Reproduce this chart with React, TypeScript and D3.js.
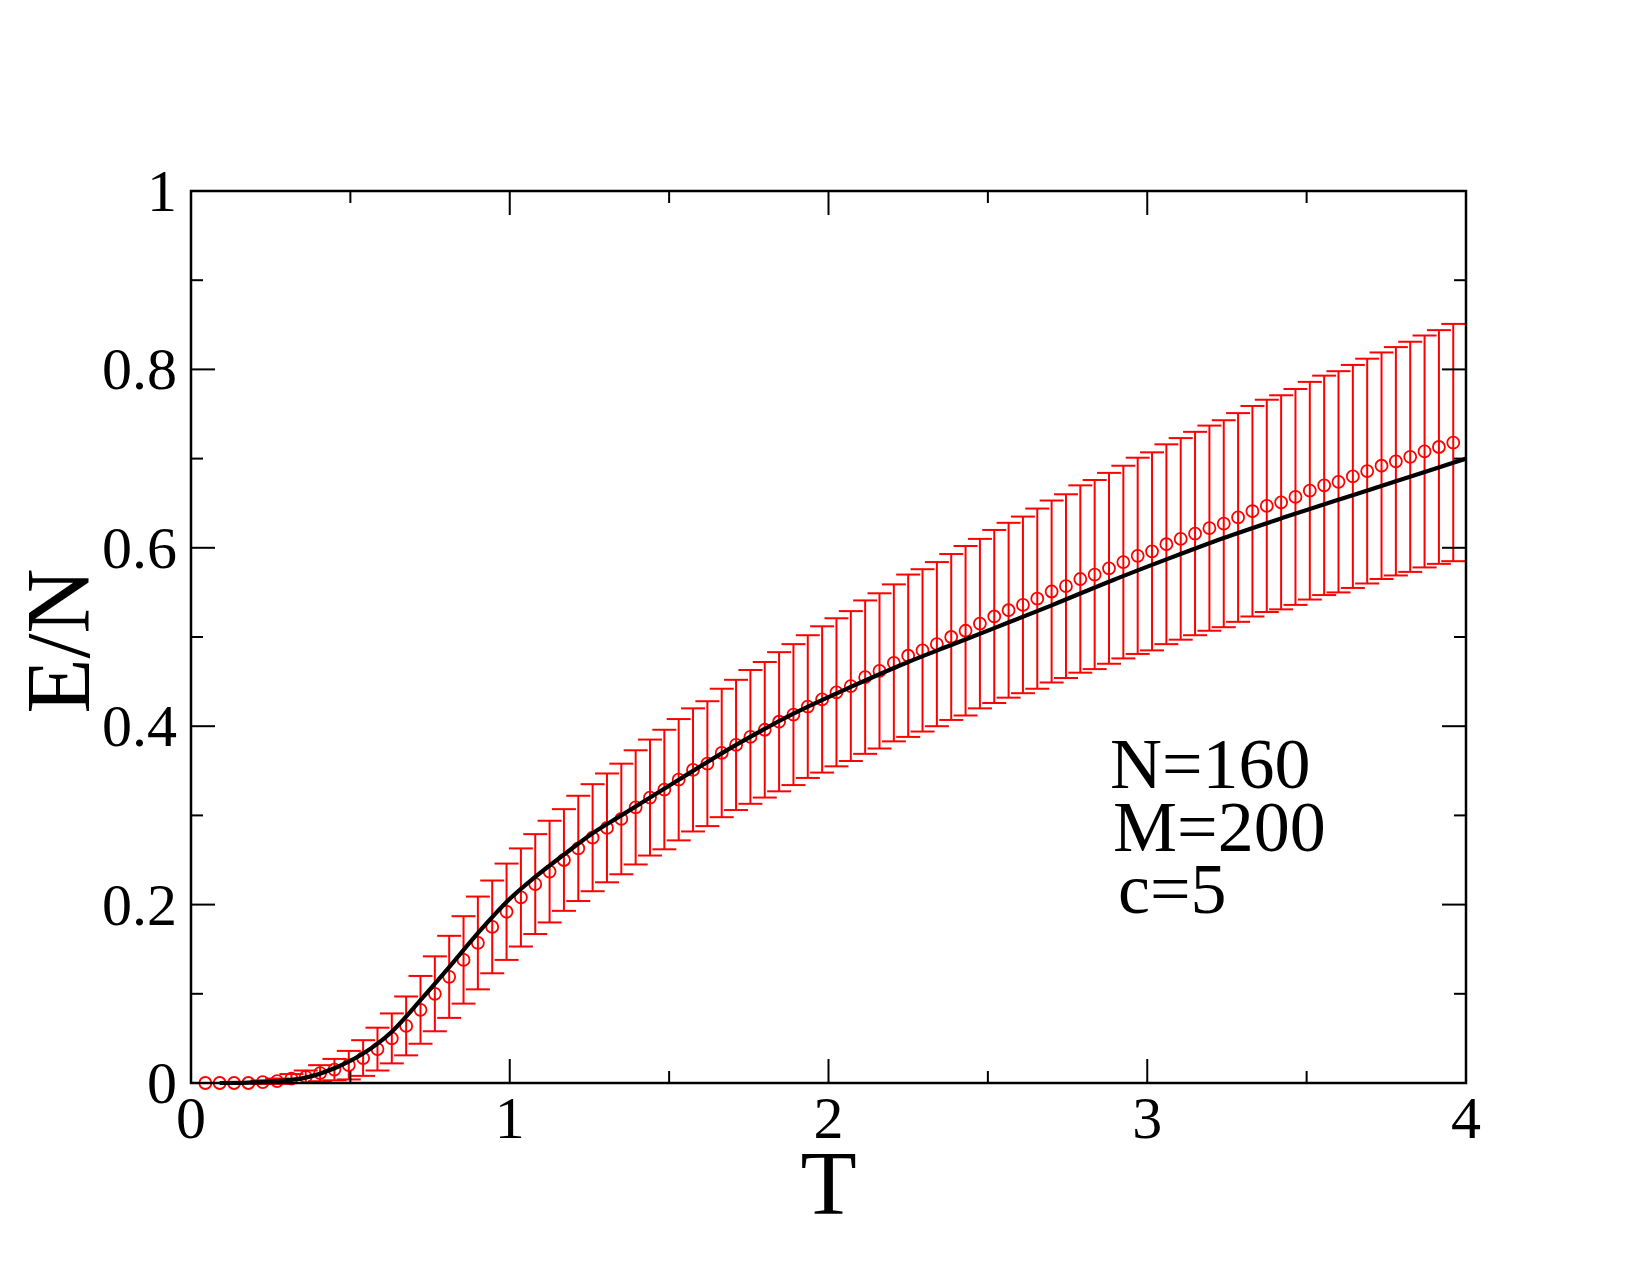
import * as d3 from "d3";

// Monte Carlo energy per node vs temperature, with error bars
const temps = [
  0.045, 0.09, 0.135, 0.18, 0.225, 0.27, 0.315, 0.36, 0.405, 0.45,
  0.495, 0.54, 0.585, 0.63, 0.675, 0.72, 0.765, 0.81, 0.855, 0.9,
  0.945, 0.99, 1.035, 1.08, 1.125, 1.17, 1.215, 1.26, 1.305, 1.35,
  1.395, 1.44, 1.485, 1.53, 1.575, 1.62, 1.665, 1.71, 1.755, 1.8,
  1.845, 1.89, 1.935, 1.98, 2.025, 2.07, 2.115, 2.16, 2.205, 2.25,
  2.295, 2.34, 2.385, 2.43, 2.475, 2.52, 2.565, 2.61, 2.655, 2.7,
  2.745, 2.79, 2.835, 2.88, 2.925, 2.97, 3.015, 3.06, 3.105, 3.15,
  3.195, 3.24, 3.285, 3.33, 3.375, 3.42, 3.465, 3.51, 3.555, 3.6,
  3.645, 3.69, 3.735, 3.78, 3.825, 3.87, 3.915, 3.96,
];

const energy = [
  0.0, 0.0, 0.0, 0.0, 0.001, 0.002, 0.005, 0.007, 0.011, 0.015,
  0.02, 0.028, 0.038, 0.05, 0.064, 0.082, 0.1, 0.119, 0.138, 0.157,
  0.175, 0.192, 0.208, 0.223, 0.237, 0.25, 0.263, 0.275, 0.286, 0.296,
  0.309, 0.32, 0.329, 0.34, 0.351, 0.358, 0.37, 0.379, 0.388, 0.396,
  0.405, 0.413, 0.422, 0.43, 0.438, 0.445, 0.455, 0.462, 0.471, 0.479,
  0.485, 0.492, 0.5, 0.507, 0.515, 0.523, 0.53, 0.536, 0.543, 0.551,
  0.557, 0.565, 0.57, 0.577, 0.584, 0.591, 0.596, 0.604, 0.61, 0.616,
  0.622, 0.627, 0.634, 0.641, 0.647, 0.651, 0.657, 0.664, 0.67, 0.674,
  0.68, 0.686, 0.692, 0.697, 0.702, 0.708, 0.713, 0.718,
];

const energyErr = [
  0.0, 0.0, 0.0, 0.0, 0.002, 0.003, 0.005, 0.007, 0.009, 0.012,
  0.016, 0.02, 0.024, 0.028, 0.033, 0.038, 0.042, 0.046, 0.049, 0.052,
  0.052, 0.054, 0.055, 0.056, 0.057, 0.057, 0.059, 0.06, 0.061, 0.062,
  0.064, 0.065, 0.067, 0.068, 0.069, 0.07, 0.072, 0.073, 0.075, 0.076,
  0.078, 0.079, 0.08, 0.082, 0.083, 0.084, 0.086, 0.087, 0.088, 0.091,
  0.091, 0.092, 0.093, 0.095, 0.095, 0.097, 0.098, 0.099, 0.101, 0.102,
  0.103, 0.105, 0.106, 0.107, 0.108, 0.11, 0.111, 0.112, 0.113, 0.114,
  0.115, 0.116, 0.117, 0.118, 0.119, 0.12, 0.121, 0.122, 0.123, 0.124,
  0.125, 0.126, 0.127, 0.128, 0.129, 0.13, 0.131, 0.133,
];

// analytic curve
const theoryT = [
  0.09, 0.18, 0.27, 0.36, 0.45, 0.54, 0.63, 0.72, 0.81, 0.9, 0.99, 1.08,
  1.17, 1.26, 1.35, 1.53, 1.71, 1.89, 2.07, 2.25, 2.385, 2.52, 2.7, 2.88,
  3.06, 3.24, 3.42, 3.6, 3.78, 3.96, 4.0,
];
const theoryE = [
  0.0, 0.0005, 0.002, 0.006, 0.0165, 0.033, 0.0575, 0.093, 0.13, 0.168,
  0.203, 0.231, 0.256, 0.28, 0.3, 0.34, 0.379, 0.414, 0.444, 0.472, 0.491,
  0.51, 0.5355, 0.562, 0.587, 0.611, 0.633, 0.654, 0.6745, 0.6954, 0.7,
];

const xTicks = [0, 1, 2, 3, 4];
const yTicks = [0, 0.2, 0.4, 0.6, 0.8, 1];
const yTickLabels = ["0", "0.2", "0.4", "0.6", "0.8", "1"];
const notes = ["N=160", "M=200", "c=5"];

const W = 1650;
const H = 1275;
const left = 191;
const right = 1466;
const top = 191;
const bottom = 1083;
const font = "'Liberation Serif', 'Times New Roman', serif";

export default function App() {
  const x = d3.scaleLinear().domain([0, 4]).range([left, right]);
  const y = d3.scaleLinear().domain([0, 1]).range([bottom, top]);

  const xMinor = d3.range(0.5, 4, 1);
  const yMinor = d3.range(0.1, 1, 0.2);

  const line = d3
    .line<number>()
    .x((_, i) => x(theoryT[i]))
    .y((d) => y(d))
    .curve(d3.curveMonotoneX);

  const major = 24;
  const minor = 12;
  const cap = 12;
  const noteX = [1110, 1113, 1118];
  const noteY = [788, 851, 913];

  return (
    <svg
      width={W}
      height={H}
      style={{ position: "absolute", left: 0, top: 0, background: "#fff" }}
    >
      <rect x={0} y={0} width={W} height={H} fill="#fff" />

      {/* error bars */}
      <g stroke="#ff0000" strokeWidth={2} fill="none">
        {temps.map((t, i) => {
          const e = energyErr[i];
          if (e <= 0) return null;
          const cx = x(t);
          const y1 = y(energy[i] + e);
          const y0 = y(energy[i] - e);
          return (
            <g key={i}>
              <line x1={cx} x2={cx} y1={y1} y2={y0} />
              <line x1={cx - cap} x2={cx + cap} y1={y1} y2={y1} />
              <line x1={cx - cap} x2={cx + cap} y1={y0} y2={y0} />
            </g>
          );
        })}
      </g>

      {/* data points */}
      <g stroke="#ff0000" strokeWidth={1.8} fill="none">
        {temps.map((t, i) => (
          <circle key={i} cx={x(t)} cy={y(energy[i])} r={6} />
        ))}
      </g>

      <path d={line(theoryE) ?? ""} fill="none" stroke="#000" strokeWidth={4.2} />

      {/* frame and ticks */}
      <g stroke="#000" strokeWidth={2}>
        {xTicks.map((t) => (
          <g key={`xt${t}`}>
            <line x1={x(t)} x2={x(t)} y1={bottom} y2={bottom - major} />
            <line x1={x(t)} x2={x(t)} y1={top} y2={top + major} />
          </g>
        ))}
        {xMinor.map((t) => (
          <g key={`xm${t}`}>
            <line x1={x(t)} x2={x(t)} y1={bottom} y2={bottom - minor} />
            <line x1={x(t)} x2={x(t)} y1={top} y2={top + minor} />
          </g>
        ))}
        {yTicks.map((v) => (
          <g key={`yt${v}`}>
            <line x1={left} x2={left + major} y1={y(v)} y2={y(v)} />
            <line x1={right} x2={right - major} y1={y(v)} y2={y(v)} />
          </g>
        ))}
        {yMinor.map((v) => (
          <g key={`ym${v}`}>
            <line x1={left} x2={left + minor} y1={y(v)} y2={y(v)} />
            <line x1={right} x2={right - minor} y1={y(v)} y2={y(v)} />
          </g>
        ))}
      </g>
      <rect
        x={left}
        y={top}
        width={right - left}
        height={bottom - top}
        fill="none"
        stroke="#000"
        strokeWidth={2.5}
      />

      {/* tick labels */}
      <g fontFamily={font} fontSize={60} fill="#000">
        {xTicks.map((t) => (
          <text key={`xl${t}`} x={x(t)} y={1138} textAnchor="middle">
            {t}
          </text>
        ))}
        {yTicks.map((v, i) => (
          <text key={`yl${v}`} x={177} y={y(v) + 20} textAnchor="end">
            {yTickLabels[i]}
          </text>
        ))}
      </g>

      {/* axis titles */}
      <text
        x={x(2)}
        y={1214}
        textAnchor="middle"
        fontFamily={font}
        fontSize={92}
        fill="#000"
      >
        T
      </text>
      <text
        transform={`translate(89, ${(top + bottom) / 2 + 4}) rotate(-90)`}
        textAnchor="middle"
        fontFamily={font}
        fontSize={90}
        fill="#000"
      >
        E/N
      </text>

      <g fontFamily={font} fontSize={72} fill="#000">
        {notes.map((n, i) => (
          <text key={n} x={noteX[i]} y={noteY[i]}>
            {n}
          </text>
        ))}
      </g>
    </svg>
  );
}
